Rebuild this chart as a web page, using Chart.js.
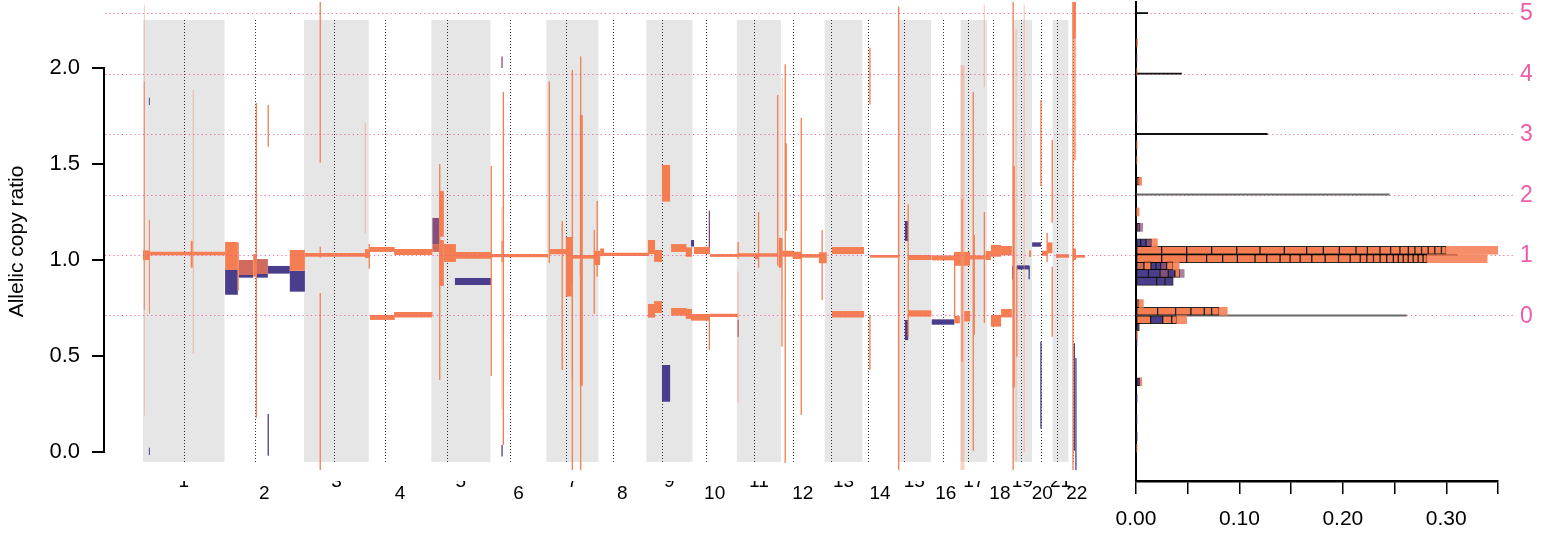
<!DOCTYPE html>
<html>
<head>
<meta charset="utf-8">
<title>Allelic copy ratio</title>
<script src="https://cdn.jsdelivr.net/npm/chart.js@4.4.1/dist/chart.umd.min.js"></script>
<style>
  body { margin: 0; background: #fff; }
  #wrap { position: relative; width: 1553px; height: 536px; }
  canvas { position: absolute; top: 0; }
  #genome { left: 0; }
  #hist { left: 1100px; }
</style>
</head>
<body>
<div id="wrap">
  <canvas id="genome" width="1100" height="536"></canvas>
  <canvas id="hist" width="453" height="536"></canvas>
</div>
<script>
/* chromosomes (hg19, Mb) */
const chromNames = ['1','2','3','4','5','6','7','8','9','10','11','12','13','14','15','16','17','18','19','20','21','22'];
const chromLengthMb = [249.3,243.2,198.0,191.2,180.9,171.1,159.1,146.4,141.2,135.5,135.0,133.9,115.2,107.3,102.5,90.4,81.2,78.1,59.1,63.0,48.1,51.3];
const centromereMb = [125.0,93.3,91.0,50.4,48.4,61.0,59.9,45.6,49.0,40.2,53.7,35.8,17.9,17.6,19.0,36.6,24.0,17.2,26.5,27.5,13.2,14.7];

/* allelic copy ratio levels for integer copy numbers */
const copyLevels = [0.711, 1.026, 1.341, 1.656, 1.971, 2.286];
const copyLabels = ['0','1','2','3','4','5'];
const yTickValues = [0, 0.5, 1, 1.5, 2];

/* segments: [start Mb (genome), end Mb (genome), low, high] */
const faintSegs = [
  [3,6,0.19,2.33],[152,156,0.51,1.885],[678,682,1.14,1.713],[1096,1100,0.219,1.276],[1309,1313,0.385,0.88],
  [1818,1822,0.255,0.94],[1953,1957,0.80,1.948],[2500,2512,-0.094,2.016],[2571,2575,1.9,2.33],
  [2668,2672,-0.05,2.2],[2693,2697,0.0,2.33]
];
const orangeSegs = [
  [0,19,1.00,1.05],[2.5,5.5,0.74,1.93],[18,21,0.72,1.21],[19,251,1.025,1.043],[146,152,0.96,1.10],
  [251,290,0.948,1.094],[289,293,0.84,1.089],[337,346,0.913,1.031],[344.5,348.5,0.179,1.818],[381,385,1.59,1.807],
  [449,495,0.944,1.052],[495,684,1.017,1.036],[540,544,1.507,2.345],[540,544,-0.094,0.828],[540,544,1.012,1.069],
  [679,692,1.01,1.057],[690,694,0.955,1.083],[694,770,1.042,1.068],[768,885,1.026,1.057],[694,770,0.688,0.714],
  [768,885,0.70,0.729],[905.5,909.5,0.375,1.5],[906,920,1.121,1.359],[906,920,0.865,1.104],[920,957,0.99,1.083],
  [954,1064,1.007,1.042],[1063,1067,0.396,1.49],[1064,1239,1.014,1.031],[1100,1104,0.036,1.875],[1096,1100,0.99,1.10],
  [1240.5,1244.5,0.984,1.93],[1242,1296,1.03,1.057],[1280,1284,0.427,1.203],[1293,1313,0.81,1.12],[1311,1315,-0.094,1.99],
  [1336.5,1340.5,-0.094,2.06],[1336,1345,0.345,1.755],[1313,1398,1.007,1.026],[1378,1382,0.719,1.156],[1387,1391,0.913,1.307],
  [1379,1398,0.974,1.048],[1398,1410,1.02,1.06],[1398,1548,1.021,1.038],[1544,1566,1.031,1.104],[1563,1587,0.99,1.052],
  [1587,1612,1.304,1.495],[1615,1662,1.042,1.083],[1660,1679,1.017,1.066],[1544,1566,0.70,0.771],[1563,1587,0.724,0.786],
  [1615,1662,0.71,0.75],[1660,1679,0.693,0.745],[1676,1734,0.684,0.719],[1685,1734,1.031,1.068],[1730,1734,0.531,0.705],
  [1734,1820,1.016,1.031],[1734,1820,0.703,0.72],[1818,1822,1.007,1.094],[1820,1941,1.017,1.035],[1872,1882,1.004,1.031],
  [1880.5,1884.5,0.96,1.25],[1939,1943,0.97,1.86],[1962,1966,-0.057,2.02],[1963,1969,1.151,1.608],[1944,1954,0.96,1.115],
  [1952,1956,0.55,1.115],[1954,1989,1.017,1.048],[1987,2013,1.005,1.043],[2011,2015,0.193,1.74],[2013,2067,1.012,1.031],
  [2067,2091,0.983,1.04],[2075,2079,0.792,1.156],[2107,2205,1.031,1.068],[2107,2205,0.70,0.734],[2221,2225,1.81,2.106],
  [2221,2225,0.427,0.714],[2223,2313,1.012,1.026],[2309,2313,-0.094,2.32],[2338,2342,0.60,1.29],[2340,2411,1.0,1.026],
  [2340,2411,0.705,0.738],[2412,2481,0.998,1.024],[2481,2498,0.670,0.708],[2481,2529,0.97,1.042],[2480,2484,0.70,1.04],
  [2503,2507,0.47,1.318],[2498,2529,0.983,1.035],[2511,2529,0.68,0.734],[2537,2541,0.007,1.875],[2529,2577,1.003,1.024],
  [2540,2544,0.61,1.13],[2571,2575,0.673,1.25],[2577,2593,1.0,1.047],[2593,2624,1.017,1.078],[2624,2657,1.024,1.073],
  [2593,2624,0.653,0.714],[2624,2657,0.701,0.745],[2659,2663,-0.094,2.345],[2660,2666,0.335,1.49],[2670,2674,0.496,0.965],
  [2710,2716,1.016,1.05],[2744,2748,1.384,1.833],[2749,2765,1.022,1.048],[2765,2781,1.035,1.092],[2778.5,2782.5,1.194,1.625],
  [2778.5,2782.5,0.6,0.965],[2763,2767,0.99,1.14],[2792,2832,1.012,1.03],[2843,2853,2.154,2.345],[2848,2852,1.52,2.154],
  [2842,2846,-0.094,2.345],[2850,2881,1.012,1.026],[2843,2853,1.0,1.06]
];
const mixedSegs = [[293,337,0.922,1.0],[346,382,0.927,1.005],[885,906,1.042,1.083]];
const mauveSegs = [[885,906,1.083,1.219],[1096,1100,2.0,2.06],[1730,1734,1.035,1.257],[1818,1822,0.60,0.6875]];
const purpleSegs = [
  [18,21,1.807,1.845],[18,21,-0.016,0.022],[251,290,0.819,0.948],[293,337,0.908,0.922],[346,382,0.908,0.927],
  [381,385,-0.019,0.198],[382,449,0.929,0.969],[449,495,0.835,0.944],[954,1064,0.87,0.906],[1096,1100,-0.024,0.036],
  [1336,1340,0.92,0.99],[1587,1612,0.262,0.453],[1676,1685,1.07,1.104],[2330,2340,1.099,1.203],[2330,2340,0.583,0.6875],
  [2412,2481,0.663,0.691],[2658,2662,0.90,0.97],[2672,2710,0.951,0.972],[2708,2712,0.90,0.97],[2719,2746,1.069,1.092],
  [2744,2748,0.123,0.574],[2846,2850,0.007,0.566],[2851,2855,-0.094,0.49]
];

/* histogram: bin centre, boxed pieces [fraction, colour], unboxed tail [fraction, colour] */
const histCenter = [2.13,2.05,1.98,1.74,1.60,1.52,1.41,1.25,1.17,1.09,1.051,1.007,0.969,0.93,0.889,0.773,0.733,0.689,0.653,0.61,0.57,0.366,0.28,0.17,0.08,0.02];
const histPieces = [
  [],[],[],[],[],[],
  [[0.0033,'o']],
  [],
  [[0.0039,'v']],
  [[0.0045,'p'],[0.0052,'p'],[0.0055,'v']],
  [[0.0248,'o'],[0.0242,'o'],[0.0242,'o'],[0.0242,'o'],[0.0225,'o'],[0.0235,'o'],[0.0216,'o'],[0.0161,'o'],[0.0155,'o'],[0.0161,'o'],
   [0.011,'o'],[0.0122,'o'],[0.0103,'o'],[0.009,'o'],[0.0081,'o'],[0.0064,'o'],[0.0064,'o'],[0.0064,'o'],[0.0064,'o'],[0.0064,'o'],[0.0048,'o']],
  [[0.0248,'o'],[0.0242,'o'],[0.0193,'o'],[0.0155,'o'],[0.0142,'o'],[0.0171,'o'],[0.0113,'o'],[0.0129,'o'],[0.0097,'o'],[0.0097,'o'],
   [0.0113,'o'],[0.0129,'o'],[0.0129,'o'],[0.0113,'o'],[0.0097,'o'],[0.0064,'o'],[0.0064,'o'],[0.0064,'o'],[0.0064,'o'],[0.0064,'o'],
   [0.0048,'o'],[0.0048,'o'],[0.0048,'o'],[0.0048,'o'],[0.0048,'o'],[0.0048,'o'],[0.0039,'o']],
  [[0.0077,'m'],[0.0068,'o'],[0.0048,'p'],[0.0045,'p'],[0.0058,'v'],[0.0064,'o']],
  [[0.0119,'p'],[0.0113,'p'],[0.008,'v'],[0.0064,'p'],[0.0048,'o']],
  [[0.02,'p'],[0.008,'p'],[0.008,'p']],
  [[0.0032,'o']],
  [[0.0209,'o'],[0.0174,'o'],[0.0148,'o'],[0.0129,'o'],[0.0071,'o'],[0.0074,'o']],
  [[0.0142,'o'],[0.0116,'p'],[0.0087,'o'],[0.0048,'o']],
  [[0.0032,'p']],
  [],[],
  [[0.004,'p']],
  [],[],[],[]
];
const histTail = [
  [0.0015,'o'],[0.001,'v'],[0.001,'o'],[0.001,'v'],[0.0012,'o'],[0.001,'o'],[0.0022,'o'],[0.003,'o'],[0.0026,'v'],[0.0055,'o'],
  [0.0541,'o'],[0.058,'o'],[0.0058,'o'],[0.0042,'v'],[0,'p'],[0.0039,'o'],[0.0077,'o'],[0.0097,'o'],[0,'p'],[0.0015,'o'],
  [0.001,'p'],[0.0016,'o'],[0.0012,'p'],[0.001,'p'],[0.0012,'p'],[0.001,'o']
];
const levelLineLength = [0.2615, 0.3105, 0.245, 0.127, 0.044, 0.0113];
const histXTicks = [0, 0.05, 0.1, 0.15, 0.2, 0.25, 0.3, 0.35];
const histXLabels = ['0.00','','0.10','','0.20','','0.30',''];

const segColors = {o: '#F47E52', p: '#4A3D8C', m: '#CF6A5E', v: '#864E7C', l: 'rgba(241,150,118,0.45)'};
const tailColors = {o: 'rgba(245,128,84,0.88)', p: 'rgba(74,61,140,0.7)', v: 'rgba(134,78,124,0.7)', m: 'rgba(207,106,94,0.8)'};
const pinkLine = 'rgba(238,84,160,0.85)';
const pinkText = '#EE5BA8';
const bandColor = '#E5E6E5';

const yMin = -29 / 192, yMax = 450 / 192;

Chart.defaults.font.family = 'Liberation Sans, Arial, Helvetica, sans-serif';
Chart.defaults.color = '#000';

const chromStart = [];
chromLengthMb.reduce((acc, len) => { chromStart.push(acc); return acc + len; }, 0);
const chromCenter = chromStart.map((s, i) => s + chromLengthMb[i] / 2);

function rectDataset(seg, color) {
  const [s, e, lo, hi] = seg;
  return {
    data: [{x: s, y: lo}, {x: e, y: lo}, {x: e, y: hi}, {x: s, y: hi}],
    fill: 'shape',
    backgroundColor: color,
    borderColor: 'transparent',
    borderWidth: 0,
    pointRadius: 0,
    tension: 0
  };
}

// keep chart areas where they are: no extra room for half labels
function noPad(s) {
  s.paddingTop = 0; s.paddingBottom = 0; s.paddingLeft = 0; s.paddingRight = 0;
}

const genomeDatasets = [];
[[faintSegs, 'l'], [orangeSegs, 'o'], [mixedSegs, 'm'], [mauveSegs, 'v'], [purpleSegs, 'p']].forEach(([list, key]) => {
  list.forEach(seg => genomeDatasets.push(rectDataset(seg, segColors[key])));
});

function drawPinkLines(chart, x0, x1) {
  const {ctx, scales: {y}} = chart;
  ctx.save();
  ctx.strokeStyle = pinkLine;
  ctx.lineWidth = 1;
  ctx.setLineDash([1.2, 3]);
  copyLevels.forEach(v => {
    const py = Math.round(y.getPixelForValue(v)) + 0.5;
    ctx.beginPath();
    ctx.moveTo(x0, py);
    ctx.lineTo(x1, py);
    ctx.stroke();
  });
  ctx.restore();
}

const genomeDecor = {
  id: 'genomeDecor',
  beforeDatasetsDraw(chart) {
    const {ctx, scales: {x, y}} = chart;
    const top = y.getPixelForValue(2.25), bottom = y.getPixelForValue(-0.052);
    ctx.save();
    ctx.fillStyle = bandColor;
    chromStart.forEach((s, i) => {
      if (i % 2 === 0) {
        const x0 = x.getPixelForValue(s), x1 = x.getPixelForValue(s + chromLengthMb[i]);
        ctx.fillRect(x0, top, x1 - x0, bottom - top);
      }
    });
    ctx.strokeStyle = '#333';
    ctx.lineWidth = 1;
    ctx.setLineDash([1, 2]);
    chromStart.forEach((s, i) => {
      const px = Math.round(x.getPixelForValue(s + centromereMb[i])) + 0.5;
      ctx.beginPath();
      ctx.moveTo(px, top);
      ctx.lineTo(px, bottom);
      ctx.stroke();
    });
    ctx.restore();
  },
  afterDatasetsDraw(chart) {
    const {ctx, chartArea, scales: {y}} = chart;
    drawPinkLines(chart, chartArea.left, chart.width);
    ctx.save();
    ctx.strokeStyle = '#000';
    ctx.lineWidth = 2;
    ctx.beginPath();
    ctx.moveTo(chartArea.left - 1, y.getPixelForValue(0) + 1);
    ctx.lineTo(chartArea.left - 1, y.getPixelForValue(2) - 1);
    ctx.stroke();
    ctx.restore();
  }
};

new Chart(document.getElementById('genome'), {
  type: 'line',
  data: {datasets: genomeDatasets},
  options: {
    responsive: false,
    animation: false,
    devicePixelRatio: 1,
    layout: {padding: {top: 2, left: 0, right: 0, bottom: 0}},
    plugins: {legend: {display: false}, tooltip: {enabled: false}},
    scales: {
      x: {
        type: 'linear',
        min: -116.2,
        max: 2926.6,
        afterBuildTicks: s => { s.ticks = chromCenter.map(v => ({value: v})); },
        afterFit: s => { s.height = 55; noPad(s); },
        grid: {display: false, drawTicks: false},
        border: {display: false},
        ticks: {
          autoSkip: false, maxRotation: 0, minRotation: 0, padding: -5,
          font: {size: 19, lineHeight: 0.632}, color: '#000',
          callback: (v, i) => (i % 2 ? ['', chromNames[i]] : chromNames[i])
        }
      },
      y: {
        type: 'linear',
        min: yMin,
        max: yMax,
        afterBuildTicks: s => { s.ticks = yTickValues.map(v => ({value: v})); },
        afterFit: s => { s.width = 105; noPad(s); },
        grid: {drawOnChartArea: false, drawTicks: true, tickLength: 13, lineWidth: 2, color: '#000'},
        border: {display: false},
        ticks: {padding: 12, font: {size: 22}, color: '#000', callback: v => v.toFixed(1)},
        title: {display: true, text: 'Allelic copy ratio', font: {size: 21}, color: '#000', padding: {top: 5, bottom: 0}}
      }
    }
  },
  plugins: [genomeDecor]
});

/* histogram datasets built from the bins */
const boxed = {o: [], p: [], m: [], v: []};
const tails = {o: [], p: [], m: [], v: []};
histCenter.forEach((c, i) => {
  let x0 = 0;
  histPieces[i].forEach(([w, k]) => {
    boxed[k].push({y: c, x: [x0, x0 + w]});
    x0 += w;
  });
  const [tw, tk] = histTail[i];
  if (tw > 0) tails[tk].push({y: c, x: [x0, x0 + tw]});
});

const histDatasets = [];
Object.keys(tails).forEach(k => {
  if (tails[k].length) histDatasets.push({
    data: tails[k], backgroundColor: tailColors[k], borderWidth: 0,
    barThickness: 8, grouped: false, xAxisID: 'x', yAxisID: 'y'
  });
});
Object.keys(boxed).forEach(k => {
  if (boxed[k].length) histDatasets.push({
    data: boxed[k], backgroundColor: segColors[k], borderColor: 'rgba(0,0,0,0.85)', borderWidth: 1,
    borderSkipped: false, barThickness: 8, grouped: false, xAxisID: 'x', yAxisID: 'y'
  });
});
histDatasets.push({
  data: copyLevels.map((v, i) => ({y: v, x: [0, levelLineLength[i]]})),
  backgroundColor: ['#6a6a6a', '#111', '#6a6a6a', '#111', '#111', '#111'],
  borderWidth: 0, barThickness: 1.2, grouped: false, xAxisID: 'x', yAxisID: 'y'
});

const histDecor = {
  id: 'histDecor',
  beforeDatasetsDraw(chart) {
    drawPinkLines(chart, 0, chart.chartArea.right + 17);
  },
  afterDraw(chart) {
    // copy number labels on the right, placed on the shared y scale
    const {ctx, chartArea, scales: {y}} = chart;
    ctx.save();
    ctx.fillStyle = pinkText;
    ctx.font = '23px "Liberation Sans", Arial, sans-serif';
    ctx.textAlign = 'left';
    ctx.textBaseline = 'middle';
    copyLevels.forEach((v, i) => ctx.fillText(copyLabels[i], chartArea.right + 22, y.getPixelForValue(v) + 1));
    ctx.restore();
  }
};

new Chart(document.getElementById('hist'), {
  type: 'bar',
  data: {datasets: histDatasets},
  options: {
    indexAxis: 'y',
    responsive: false,
    animation: false,
    devicePixelRatio: 1,
    layout: {padding: {top: 2, left: 0, right: 55, bottom: 0}},
    plugins: {legend: {display: false}, tooltip: {enabled: false}},
    scales: {
      x: {
        type: 'linear',
        min: 0,
        max: 0.35,
        offset: false,
        afterBuildTicks: s => { s.ticks = histXTicks.map(v => ({value: v})); },
        afterFit: s => { s.height = 55; noPad(s); },
        grid: {drawOnChartArea: false, drawTicks: true, tickLength: 13, lineWidth: 1.5, color: '#000', offset: false},
        border: {display: true, color: '#000', width: 2.5},
        ticks: {autoSkip: false, maxRotation: 0, minRotation: 0, padding: 13, font: {size: 21}, color: '#000',
          callback: (v, i) => histXLabels[i]}
      },
      y: {
        type: 'linear',
        min: yMin,
        max: yMax,
        offset: false,
        afterFit: s => { s.width = 36; noPad(s); },
        grid: {display: false, drawTicks: false, offset: false},
        ticks: {display: false},
        border: {display: true, color: '#000', width: 2}
      }
    }
  },
  plugins: [histDecor]
});
</script>
</body>
</html>
